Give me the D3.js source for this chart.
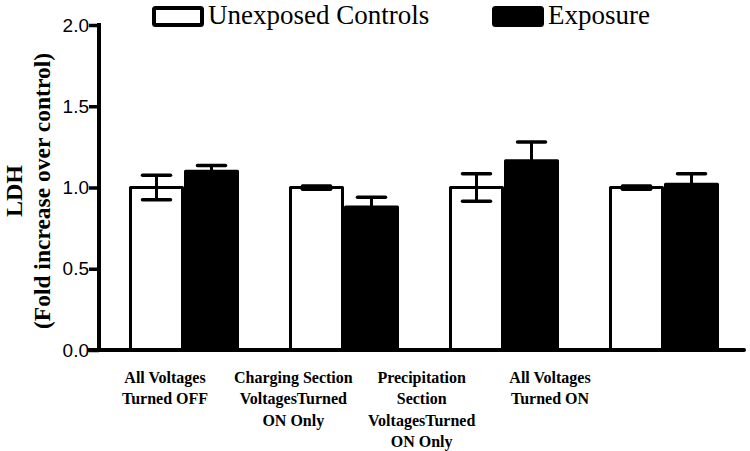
<!DOCTYPE html>
<html><head><meta charset="utf-8">
<script src="https://cdnjs.cloudflare.com/ajax/libs/d3/7.8.5/d3.min.js"></script>
<style>body{margin:0;background:#fff}svg{display:block}</style>
</head><body>
<script>
const categories = ["All Voltages|Turned OFF", "Charging Section|VoltagesTurned|ON Only", "Precipitation|Section|VoltagesTurned|ON Only", "All Voltages|Turned ON"];
const seriesNames = ["Unexposed Controls", "Exposure"];
const controlValues = [1.0, 1.0, 1.0, 1.0];
const controlErrors = [0.075, 0.01, 0.085, 0.01];
const exposureValues = [1.10, 0.88, 1.165, 1.02];
const exposureErrors = [0.035, 0.06, 0.115, 0.065];
const yTicks = [0.0, 0.5, 1.0, 1.5, 2.0];

const W = 750, H = 451;
const svg = d3.select("body").append("svg").attr("width", W).attr("height", H);

const y = d3.scaleLinear().domain([0, 2]).range([350, 25]);
const x0 = d3.scaleBand().domain(categories).range([104, 744]).paddingInner(0.3125).paddingOuter(0.15625);
const x1 = d3.scaleBand().domain(seriesNames).range([0, x0.bandwidth()]);
const xl = d3.scalePoint().domain(categories).range([165, 550]);

const series = [
  {name: seriesNames[0], values: controlValues, errors: controlErrors, fill: "#fff"},
  {name: seriesNames[1], values: exposureValues, errors: exposureErrors, fill: "#000"}
];

// bars
series.forEach(s => {
  const g = svg.append("g");
  categories.forEach((c, i) => {
    const bx = x0(c) + x1(s.name);
    const v = s.values[i], e = s.errors[i];
    const cx = bx + x1.bandwidth() / 2;
    g.append("rect").attr("x", bx + 1.5).attr("y", y(v))
      .attr("width", x1.bandwidth() - 3).attr("height", y(0) - y(v))
      .attr("fill", s.fill).attr("stroke", "#000").attr("stroke-width", 3).attr("stroke-linejoin", "round");
    g.append("line").attr("x1", cx).attr("x2", cx).attr("y1", y(v)).attr("y2", y(v + e)).attr("stroke", "#000").attr("stroke-width", 3);
    g.append("line").attr("x1", cx - 14).attr("x2", cx + 14).attr("y1", y(v + e)).attr("y2", y(v + e)).attr("stroke", "#000").attr("stroke-width", 3.5).attr("stroke-linecap", "round");
    if (s.fill === "#fff") {
      g.append("line").attr("x1", cx).attr("x2", cx).attr("y1", y(v)).attr("y2", y(v - e)).attr("stroke", "#000").attr("stroke-width", 3);
      g.append("line").attr("x1", cx - 14).attr("x2", cx + 14).attr("y1", y(v - e)).attr("y2", y(v - e)).attr("stroke", "#000").attr("stroke-width", 3.5).attr("stroke-linecap", "round");
    }
  });
});

// y axis
const yAxis = svg.append("g").attr("transform", "translate(99,0)")
  .call(d3.axisLeft(y).tickValues(yTicks).tickFormat(d3.format(".1f")).tickSize(10).tickSizeOuter(0));
yAxis.select(".domain").remove();
yAxis.selectAll(".tick line").attr("stroke", "#000").attr("stroke-width", 3.5);
yAxis.selectAll(".tick text").attr("font-family", "Liberation Sans, Arial, sans-serif").attr("font-size", 19).attr("fill", "#000").attr("x", -10);
svg.append("line").attr("x1", 99).attr("x2", 99).attr("y1", 23).attr("y2", 351.5).attr("stroke", "#000").attr("stroke-width", 4);
// x axis line
svg.append("line").attr("x1", 89).attr("x2", 744).attr("y1", 350).attr("y2", 350).attr("stroke", "#000").attr("stroke-width", 4).attr("stroke-linecap", "round");

// x labels
categories.forEach(c => {
  const t = svg.append("text").attr("text-anchor", "middle")
    .attr("font-family", "Liberation Serif, Times New Roman, serif").attr("font-weight", "bold").attr("font-size", 16).attr("fill", "#000");
  c.split("|").forEach((line, k) => {
    t.append("tspan").attr("x", xl(c)).attr("y", 383 + k * 21.3).text(line);
  });
});

// y title
const yt = svg.append("text").attr("transform", "translate(0,191) rotate(-90)").attr("text-anchor", "middle")
  .attr("font-family", "Liberation Serif, Times New Roman, serif").attr("font-weight", "bold").attr("fill", "#000");
yt.append("tspan").attr("x", 0).attr("y", 22).attr("font-size", 24).text("LDH");
yt.append("tspan").attr("x", 0).attr("y", 50).attr("font-size", 23.5).text("(Fold increase over control)");

// legend
const legend = [{name: seriesNames[0], fill: "#fff", x: 154}, {name: seriesNames[1], fill: "#000", x: 494}];
legend.forEach(l => {
  svg.append("rect").attr("x", l.x).attr("y", 8).attr("width", 48).attr("height", 17)
    .attr("fill", l.fill).attr("stroke", "#000").attr("stroke-width", 4).attr("rx", 1.5);
  svg.append("text").attr("x", l.x + 54).attr("y", 24).attr("font-family", "Liberation Serif, Times New Roman, serif")
    .attr("font-size", 27).attr("fill", "#000").text(l.name);
});
</script>
</body></html>
